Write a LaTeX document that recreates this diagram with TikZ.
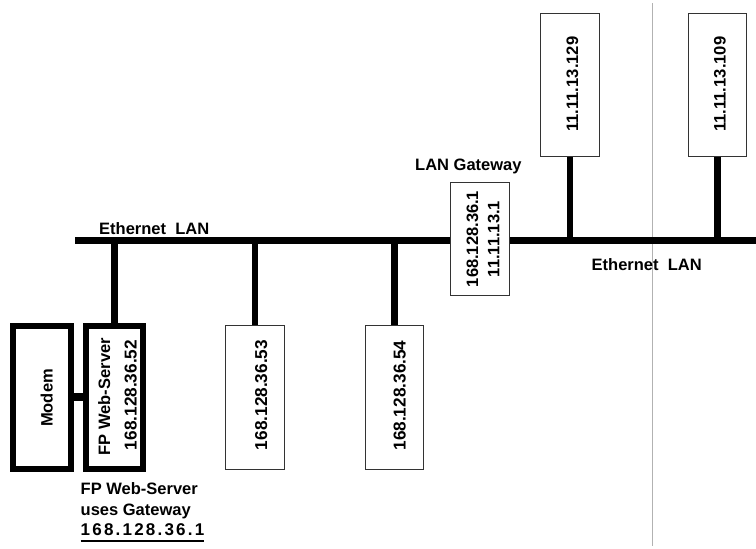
\documentclass[tikz,border=0pt]{standalone}
\usepackage{fontspec}
\setmainfont{Liberation Sans}
\newfontfamily\spacedfont[LetterSpace=13]{Liberation Sans}
\begin{document}
\begin{tikzpicture}[x=1pt,y=-1pt,
  txt/.style={font=\fontsize{16.5}{20}\selectfont\bfseries, inner sep=0pt},
  vtxt/.style={font=\fontsize{17.2}{20}\selectfont\bfseries, inner sep=0pt},
  stxt/.style={font=\fontsize{16.6}{20}\selectfont\bfseries, inner sep=0pt},
  sptxt/.style={font=\spacedfont\fontsize{17}{20}\selectfont\bfseries, inner sep=0pt},
  thinbox/.style={draw=black!80, line width=0.9pt, fill=white, minimum width=58.5pt, minimum height=143.5pt, inner sep=0pt},
  thickbox/.style={draw=black, line width=6pt, fill=white, minimum height=143.2pt, inner sep=0pt},
  wire/.style={line width=6.7pt, black},
]
\useasboundingbox (0,0) rectangle (756,549);
% divider
\coordinate (g1) at (652.5,3);
\coordinate (g2) at (652.5,546);
\draw[black!30, line width=1pt] (g1) -- (g2);
% bus
\coordinate (busL) at (75,240.7);
\coordinate (busR) at (756,240.7);
\draw[wire] (busL) -- (busR);
% boxes
\node[thickbox, minimum width=58pt] (modem) at (42,397.1) {};
\node[thickbox, minimum width=57pt] (fp) at (114.8,397.1) {};
\node[thinbox] (h53) at (255,397.2) {};
\node[thinbox] (h54) at (394.2,397.2) {};
\node[thinbox] (h129) at (570,85) {};
\node[thinbox] (h109) at (717.3,85) {};
\node[thinbox, minimum width=58.3pt, minimum height=113.4pt] (gw) at (479.9,239) {};
% stems
\draw[wire] (fp.north |- busL) -- (fp.north);
\draw[wire] (h53.north |- busL) -- (h53.north);
\draw[wire] (h54.north |- busL) -- (h54.north);
\draw[wire] (h129.south) -- (h129.south |- busL);
\draw[wire] (h109.south) -- (h109.south |- busL);
\draw[line width=7.5pt] (modem.east) -- (fp.west);
% texts in boxes
\node[txt] (tmodem) at (46.7,398) {\rotatebox{90}{Modem}};
\node[txt] (tfp1) at (104.2,396.7) {\rotatebox{90}{FP Web-Server}};
\node[vtxt] (tfp2) at (130.8,395) {\rotatebox{90}{168.128.36.52}};
\node[vtxt] (t53) at (261.3,395) {\rotatebox{90}{168.128.36.53}};
\node[vtxt] (t54) at (399.7,395.5) {\rotatebox{90}{168.128.36.54}};
\node[stxt] (t129) at (572.5,84.2) {\rotatebox{90}{11.11.13.129}};
\node[stxt] (t109) at (720,84.2) {\rotatebox{90}{11.11.13.109}};
\node[txt] (tgw1) at (472.5,239) {\rotatebox{90}{168.128.36.1}};
\node[txt] (tgw2) at (493.7,239) {\rotatebox{90}{11.11.13.1}};
% labels
\node[txt, anchor=base west] (eth1) at (99,234) {Ethernet\ \ LAN};
\node[txt, anchor=base west] (eth2) at (591.5,270) {Ethernet\ \ LAN};
\node[txt, anchor=base west] (gwl) at (415,170) {LAN Gateway};
\node[txt, anchor=base west] (n1) at (80.5,494.5) {FP Web-Server};
\node[txt, anchor=base west] (n2) at (80.5,515.5) {uses Gateway};
\node[sptxt, anchor=base west] (n3) at (80.5,535) {168.128.36.1};
\draw[line width=1.8pt] ([yshift=-6pt]n3.base west) -- ([yshift=-6pt]n3.base east);
\end{tikzpicture}
\end{document}
